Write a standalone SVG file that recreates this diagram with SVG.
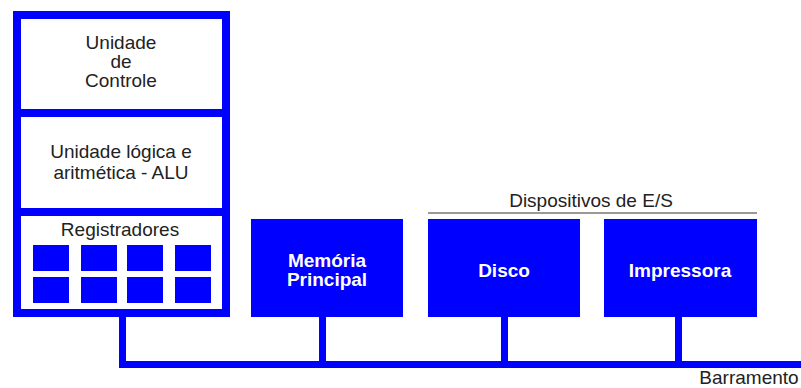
<svg xmlns="http://www.w3.org/2000/svg" width="801" height="388" viewBox="0 0 801 388">
<style>
.t{font-family:"Liberation Sans",Arial,sans-serif;font-size:19px;fill:#222;text-anchor:middle}
.w{font-family:"Liberation Sans",Arial,sans-serif;font-size:19px;font-weight:bold;fill:#fff;text-anchor:middle}
.blue{fill:#0000ff}
.bus{fill:#0000ff}
</style>
<rect width="801" height="388" fill="#fff"/>
<g id="connectors">
<rect class="bus" x="119" y="317" width="7" height="51"/>
<rect class="bus" x="119" y="361" width="682" height="7"/>
<rect class="bus" x="319" y="317" width="7" height="45"/>
<rect class="bus" x="501" y="317" width="7" height="45"/>
<rect class="bus" x="675" y="317" width="7" height="45"/>
</g>
<g id="cpu">
<rect x="17" y="15" width="209" height="298" fill="#fff" stroke="#0000ff" stroke-width="8"/>
<rect class="blue" x="13" y="109" width="217" height="8"/>
<rect class="blue" x="13" y="208" width="217" height="8"/>
</g>
<g id="controle">
<text class="t" x="121" y="49">Unidade</text>
<text class="t" x="121" y="68">de</text>
<text class="t" x="121" y="87">Controle</text>
</g>
<g id="alu">
<text class="t" x="121" y="158">Unidade lógica e</text>
<text class="t" x="121" y="179">aritmética - ALU</text>
</g>
<g id="registradores">
<text class="t" x="120" y="236">Registradores</text>
<rect class="blue" x="33" y="245" width="36" height="26"/>
<rect class="blue" x="81" y="245" width="36" height="26"/>
<rect class="blue" x="127" y="245" width="36" height="26"/>
<rect class="blue" x="175" y="245" width="36" height="26"/>
<rect class="blue" x="33" y="277" width="36" height="26"/>
<rect class="blue" x="81" y="277" width="36" height="26"/>
<rect class="blue" x="127" y="277" width="36" height="26"/>
<rect class="blue" x="175" y="277" width="36" height="26"/>
</g>
<g id="memoria">
<rect class="blue" x="251" y="219" width="152" height="98"/>
<text class="w" x="327" y="267">Memória</text>
<text class="w" x="327" y="286">Principal</text>
</g>
<g id="dispositivos">
<text class="t" x="591" y="207">Dispositivos de E/S</text>
<rect x="428" y="212" width="329" height="2" fill="#999"/>
</g>
<g id="disco">
<rect class="blue" x="428" y="219" width="152" height="98"/>
<text class="w" x="504" y="277">Disco</text>
</g>
<g id="impressora">
<rect class="blue" x="604" y="219" width="153" height="98"/>
<text class="w" x="680" y="277">Impressora</text>
</g>
<g id="barramento">
<text class="t" x="749" y="384" font-size="18">Barramento</text>
</g>
</svg>
